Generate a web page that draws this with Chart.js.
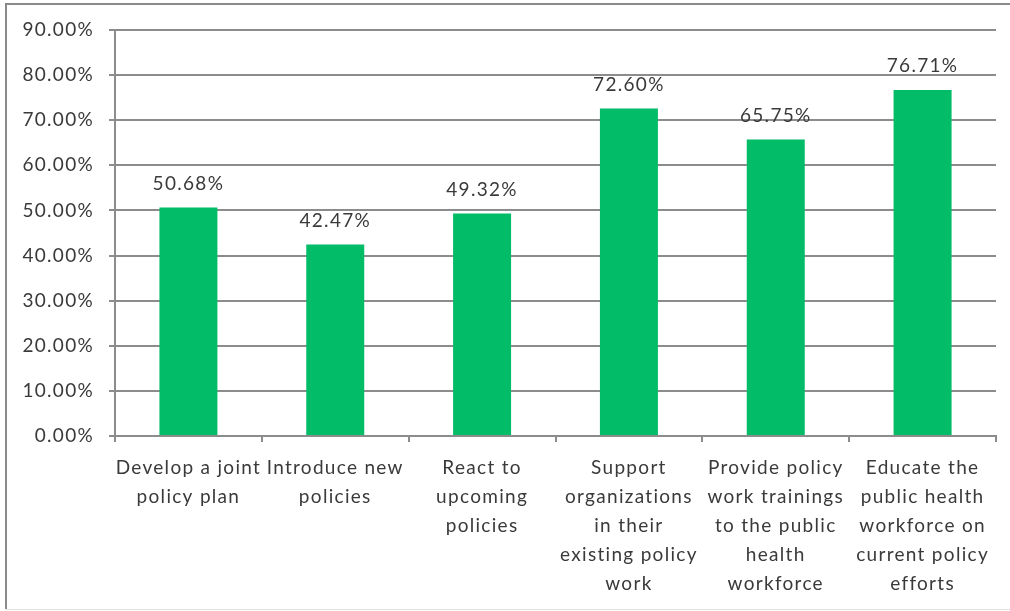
<!DOCTYPE html>
<html>
<head>
<meta charset="utf-8">
<script src="https://cdn.jsdelivr.net/npm/chart.js@4.4.1/dist/chart.umd.min.js"></script>
<style>
    html, body { margin: 0; padding: 0; background: #fff; }
    #wrap { width: 1010px; height: 611px; position: relative; }
</style>
</head>
<body>
<div id="wrap"><canvas id="policyChart" width="1010" height="611"></canvas></div>
<script>
// categories, one array of lines per label
const categories = [
    ['Develop a joint', 'policy plan'],
    ['Introduce new', 'policies'],
    ['React to', 'upcoming', 'policies'],
    ['Support', 'organizations', 'in their', 'existing policy', 'work'],
    ['Provide policy', 'work trainings', 'to the public', 'health', 'workforce'],
    ['Educate the', 'public health', 'workforce on', 'current policy', 'efforts']
];
// share of respondents, percent
const percentValues = [50.68, 42.47, 49.32, 72.60, 65.75, 76.71];
const yTicks = [0, 10, 20, 30, 40, 50, 60, 70, 80, 90];

const textColor = '#3a3a3a';
const lineColor = '#8c8c8c';
const barColor = '#02bc68';
const fontFamily = 'Lato, "Open Sans", sans-serif';
const spacing = '1.3px';

// wider letter spacing for every text, set before layout so measuring uses it too
const letterSpacingPlugin = {
    id: 'letterSpacing',
    beforeUpdate(chart) { chart.ctx.letterSpacing = spacing; },
    beforeDraw(chart) { chart.ctx.letterSpacing = spacing; }
};

// white background and the outer frame
const framePlugin = {
    id: 'frame',
    beforeDraw(chart) {
        const c = chart.ctx;
        c.save();
        c.fillStyle = '#fff';
        c.fillRect(0, 0, chart.width, chart.height);
        c.strokeStyle = '#8a8a8a';
        c.lineWidth = 2;
        c.beginPath();
        c.moveTo(6, 609);
        c.lineTo(6, 4);
        c.lineTo(chart.width, 4);
        c.stroke();
        c.strokeStyle = '#e2e2e2';
        c.lineWidth = 1;
        c.beginPath();
        c.moveTo(6, 609.5);
        c.lineTo(chart.width, 609.5);
        c.stroke();
        c.restore();
    }
};

// value labels over each bar
const valueLabels = {
    id: 'valueLabels',
    afterDatasetsDraw(chart) {
        const c = chart.ctx;
        const meta = chart.getDatasetMeta(0);
        c.save();
        c.font = '19px ' + fontFamily;
        c.fillStyle = textColor;
        c.textAlign = 'center';
        c.textBaseline = 'middle';
        meta.data.forEach((bar, i) => {
            c.fillText(percentValues[i].toFixed(2) + '%', bar.x, bar.y - 24);
        });
        c.restore();
    }
};

const ctx = document.getElementById('policyChart').getContext('2d');
new Chart(ctx, {
    type: 'bar',
    data: {
        labels: categories,
        datasets: [{
            data: percentValues,
            backgroundColor: barColor,
            borderWidth: 0,
            categoryPercentage: 1,
            barPercentage: 0.395
        }]
    },
    options: {
        responsive: false,
        animation: false,
        events: [],
        layout: { padding: { left: 0, top: 30, right: 14, bottom: 0 } },
        plugins: {
            legend: { display: false },
            tooltip: { enabled: false }
        },
        scales: {
            x: {
                afterFit: scale => { scale.height = 175; },
                grid: {
                    offset: true,
                    drawOnChartArea: false,
                    drawTicks: true,
                    tickLength: 6,
                    color: lineColor,
                    lineWidth: 2
                },
                border: { color: lineColor, width: 2 },
                ticks: {
                    autoSkip: false,
                    maxRotation: 0,
                    minRotation: 0,
                    padding: 11,
                    color: textColor,
                    font: { family: fontFamily, size: 19, lineHeight: 1.53 }
                }
            },
            y: {
                min: 0,
                max: 90,
                afterFit: scale => { scale.width = 115; },
                afterBuildTicks: scale => {
                    scale.ticks = yTicks.map(v => ({ value: v }));
                },
                grid: {
                    color: lineColor,
                    lineWidth: 2,
                    tickLength: 6
                },
                border: { color: lineColor, width: 2 },
                ticks: {
                    padding: 15,
                    color: textColor,
                    font: { family: fontFamily, size: 19 },
                    callback: v => v.toFixed(2) + '%'
                }
            }
        }
    },
    plugins: [letterSpacingPlugin, framePlugin, valueLabels]
});
</script>
</body>
</html>
